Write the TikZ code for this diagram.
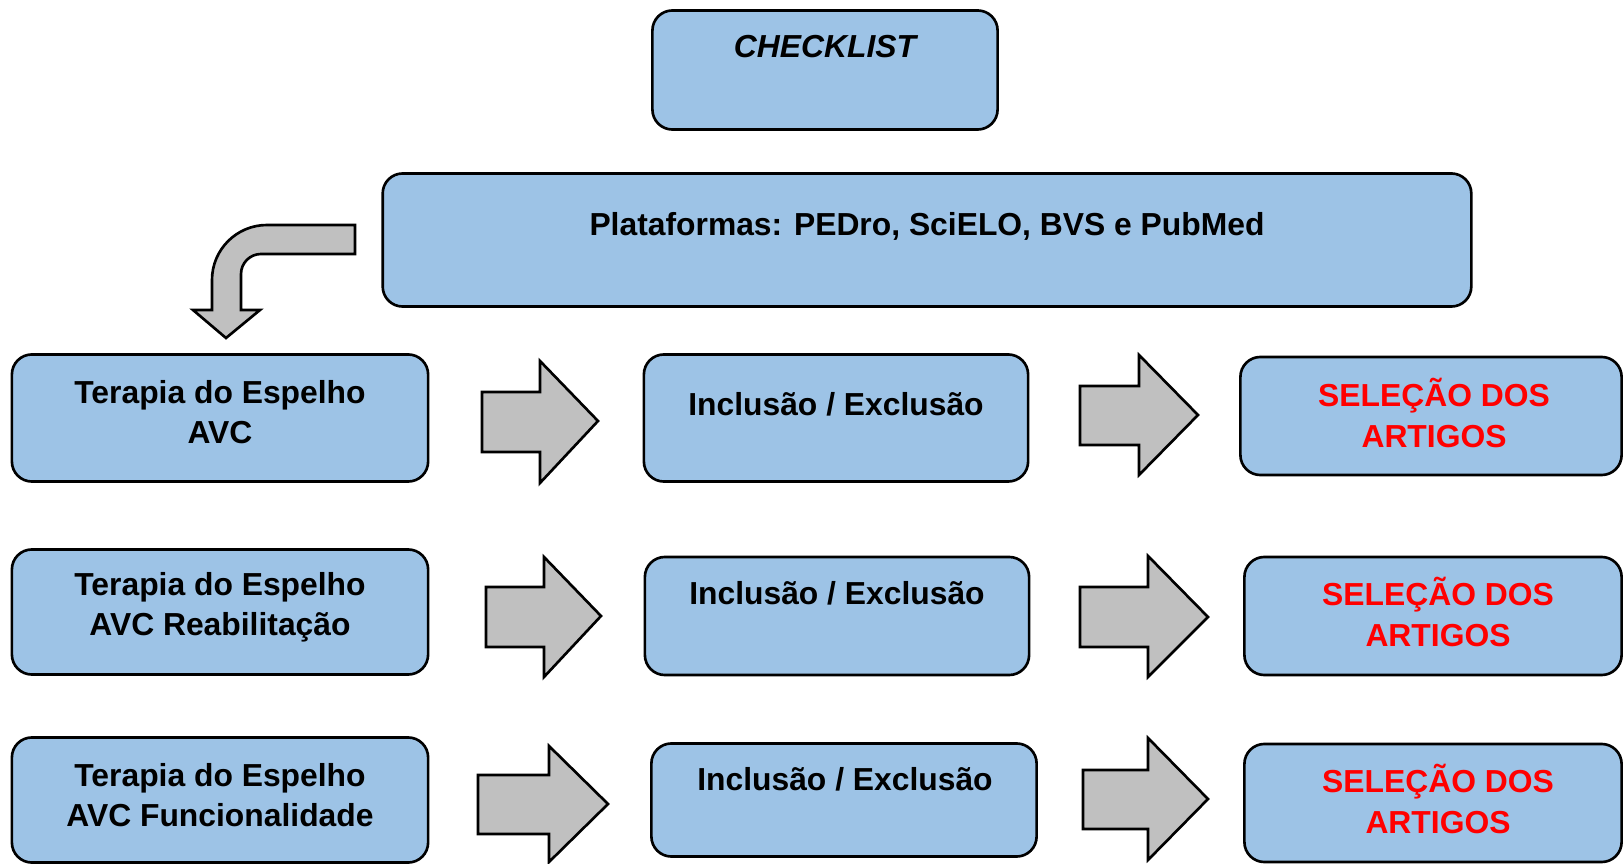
\documentclass[tikz,border=0pt]{standalone}
\usepackage{fontspec}
\setmainfont{Liberation Sans}
\definecolor{boxblue}{RGB}{157,195,230}
\definecolor{arrowgray}{RGB}{192,192,192}
\definecolor{selred}{RGB}{255,0,0}
\tikzset{
  boxnode/.style={draw=black, line width=0.75pt, fill=boxblue, rounded corners=0.2cm, inner sep=0pt},
  lbl/.style={font=\fontsize{9.05pt}{11.4pt}\selectfont\bfseries, align=center, inner sep=0pt},
  redlbl/.style={lbl, text=selred},
  garrow/.style={draw=black, line width=0.75pt, fill=arrowgray, line join=miter}
}
\begin{document}
\begin{tikzpicture}[x=0.01cm, y=-0.01cm]
\useasboundingbox (0,0) rectangle (1624,864);

% top boxes
\node[boxnode, minimum width=3.45cm, minimum height=1.19cm] (check) at (825,70) {};
\node[lbl, font=\fontsize{9.05pt}{11.4pt}\selectfont\bfseries\itshape] (checkt) at (825,47) {CHECKLIST};
\node[boxnode, minimum width=10.88cm, minimum height=1.33cm] (plat) at (927,240) {};
\node[lbl] (platt) at (927,226) {Plataformas: PEDro, SciELO, BVS e PubMed};

% bent arrow
\draw[garrow] (355,225) -- (267,225) .. controls (236.6,225) and (212,249.6) .. (212,280)
  -- (212,310) -- (193,310) -- (226,338) -- (260,310) -- (241,310) -- (241,274)
  .. controls (241,263) and (250,254) .. (261,254) -- (355,254) -- cycle;

% row 1
\node[boxnode, minimum width=4.16cm, minimum height=1.27cm] (l1) at (220,418) {};
\node[lbl] (l1t) at (220,412) {Terapia do Espelho\\AVC};
\draw[garrow] (482,392) -- (540,392) -- (540,361) -- (598,421) -- (540,483) -- (540,452) -- (482,452) -- cycle;
\node[boxnode, minimum width=3.84cm, minimum height=1.27cm] (m1) at (836,418) {};
\node[lbl] (m1t) at (836,404) {Inclusão / Exclusão};
\draw[garrow] (1080,386) -- (1139,386) -- (1139,355) -- (1198,415) -- (1139,475) -- (1139,445) -- (1080,445) -- cycle;
\node[boxnode, minimum width=3.81cm, minimum height=1.18cm] (r1) at (1431,416) {};
\node[redlbl] (r1t) at (1434,413) {SELEÇÃO DOS\\ARTIGOS};

% row 2
\node[boxnode, minimum width=4.16cm, minimum height=1.25cm] (l2) at (220,612) {};
\node[lbl] (l2t) at (220,607) {Terapia do Espelho\\AVC Reabilitação};
\draw[garrow] (486,587) -- (544,587) -- (544,557) -- (601,616) -- (544,677) -- (544,647) -- (486,647) -- cycle;
\node[boxnode, minimum width=3.84cm, minimum height=1.18cm] (m2) at (837,616) {};
\node[lbl] (m2t) at (837,593) {Inclusão / Exclusão};
\draw[garrow] (1080,587) -- (1148,587) -- (1148,556) -- (1208,617) -- (1148,677) -- (1148,647) -- (1080,647) -- cycle;
\node[boxnode, minimum width=3.77cm, minimum height=1.18cm] (r2) at (1433,616) {};
\node[redlbl] (r2t) at (1438,612) {SELEÇÃO DOS\\ARTIGOS};

% row 3
\node[boxnode, minimum width=4.16cm, minimum height=1.25cm] (l3) at (220,800) {};
\node[lbl] (l3t) at (220,795) {Terapia do Espelho\\AVC Funcionalidade};
\draw[garrow] (478,775) -- (549,775) -- (549,746) -- (608,804) -- (549,862) -- (549,834) -- (478,834) -- cycle;
\node[boxnode, minimum width=3.85cm, minimum height=1.13cm] (m3) at (844,800) {};
\node[lbl] (m3t) at (845,779) {Inclusão / Exclusão};
\draw[garrow] (1083,770) -- (1148,770) -- (1148,738) -- (1208,799) -- (1148,860) -- (1148,829) -- (1083,829) -- cycle;
\node[boxnode, minimum width=3.77cm, minimum height=1.18cm] (r3) at (1433,803) {};
\node[redlbl] (r3t) at (1438,799) {SELEÇÃO DOS\\ARTIGOS};
\end{tikzpicture}
\end{document}
